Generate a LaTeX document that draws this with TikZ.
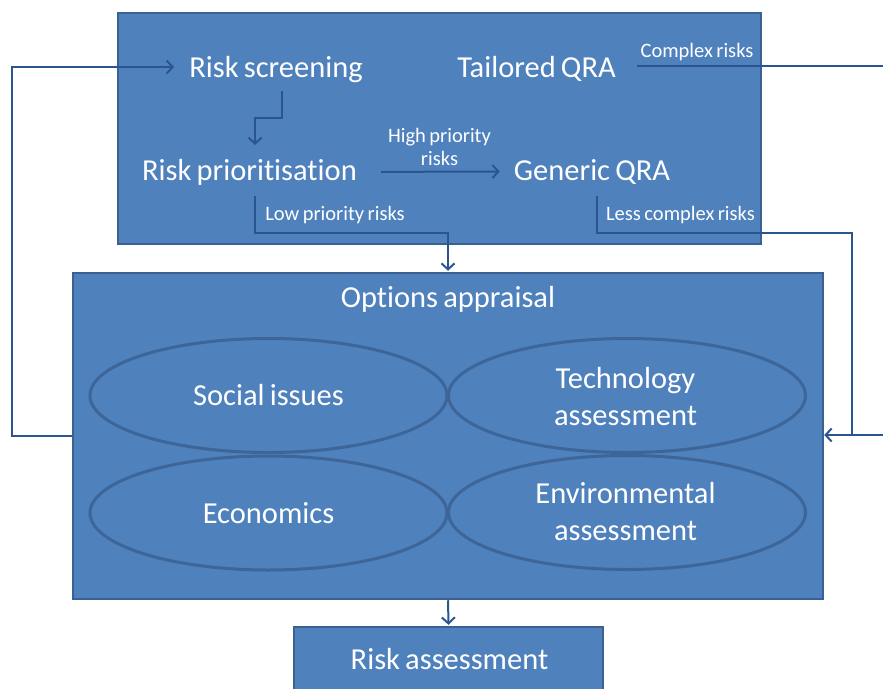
\documentclass[tikz,border=0pt]{standalone}
\usepackage{fontspec}
\setmainfont{Carlito}[WordSpace=0.75,Ligatures=NoCommon]
\usetikzlibrary{arrows.meta,shapes.geometric}
\definecolor{boxfill}{HTML}{4F81BD}
\definecolor{boxline}{HTML}{3A6192}
\definecolor{ellline}{HTML}{3D6598}
\definecolor{conncol}{HTML}{2B5492}
\begin{document}
\begin{tikzpicture}[x=1pt,y=-1pt,
  panel/.style={rectangle, draw=boxline, fill=boxfill, line width=2.5pt, inner sep=0pt},
  oval/.style={ellipse, draw=ellline, line width=3pt, inner sep=0pt,
    minimum width=357pt, minimum height=114pt, text=white, align=center,
    font=\fontsize{30.5}{37}\selectfont},
  big/.style={text=white, inner sep=0pt, anchor=base, align=center, font=\fontsize{30.5}{37}\selectfont},
  small/.style={text=white, inner sep=0pt, anchor=base, align=center, font=\fontsize{20.5}{23}\selectfont},
  conn/.style={draw=conncol, line width=2pt},
  arr/.style={conn, -{Straight Barb[length=6pt,width=13pt]}}]
\useasboundingbox (0,0) rectangle (883,688);
\clip (0,0) rectangle (883,688);

% panels
\node[panel, minimum width=643pt, minimum height=231pt] (top) at (439.5,128.5) {};
\node[panel, minimum width=750pt, minimum height=326pt] (opt) at (448,436) {};
\node[panel, minimum width=309pt, minimum height=100pt] (rabox) at (448.5,677) {};

% ellipses
\node[oval] (soc) at (268.5,395.5) {Social issues};
\node[oval] (tech) at (627,395.5) {};
\node[oval] (eco) at (268.5,513) {Economics};
\node[oval] (env) at (627,512.5) {};
\node[big] (techt) at (625.5,425) {Technology\\assessment};
\node[big] (envt) at (625.5,540) {Environmental\\assessment};

% texts
\node[big] (rs) at (276,77) {Risk screening};
\node[big] (tq) at (536.5,77) {Tailored QRA};
\node[big] (rp) at (249.5,180) {Risk prioritisation};
\node[big] (gq) at (592,180) {Generic QRA};
\node[big] (oa) at (448,307) {Options appraisal};
\node[big] (ra) at (449.5,669) {Risk assessment};

\node[small] (lcr) at (697,57) {Complex risks};
\node[small] (lhp) at (439.5,165) {High priority\\risks};
\node[small] (llp) at (335,220) {Low priority risks};
\node[small] (llc) at (680.5,220) {Less complex risks};

% connector ends
\coordinate (rsin) at (174,67);
\coordinate (rsout) at (282,91);
\coordinate (rpin) at (255,145);
\coordinate (lpout) at (255,196);
\coordinate (lcout) at (597,196);
\coordinate (tqout) at (637,66);
\coordinate (rexit) at (883,66);
\coordinate (rin) at (883,435);

% connectors
\draw[arr] (opt.west) -| (12,67) -- (rsin);
\draw[arr] (rsout) -- (282,118) -| (rpin);
\draw[arr] ([xshift=24pt]rp.east) -- ([xshift=-14pt]gq.west);
\draw[arr] (lpout) |- (opt.north |- 0,233) -- ([yshift=1pt]opt.north);
\draw[conn] (lcout) |- (852,233) -- (852,435);
\draw[arr] (rin) -- (opt.east |- rin);
\draw[conn] (tqout) -- (rexit);
\draw[arr] (opt.south) -- ([yshift=1pt]rabox.north);
\end{tikzpicture}
\end{document}
